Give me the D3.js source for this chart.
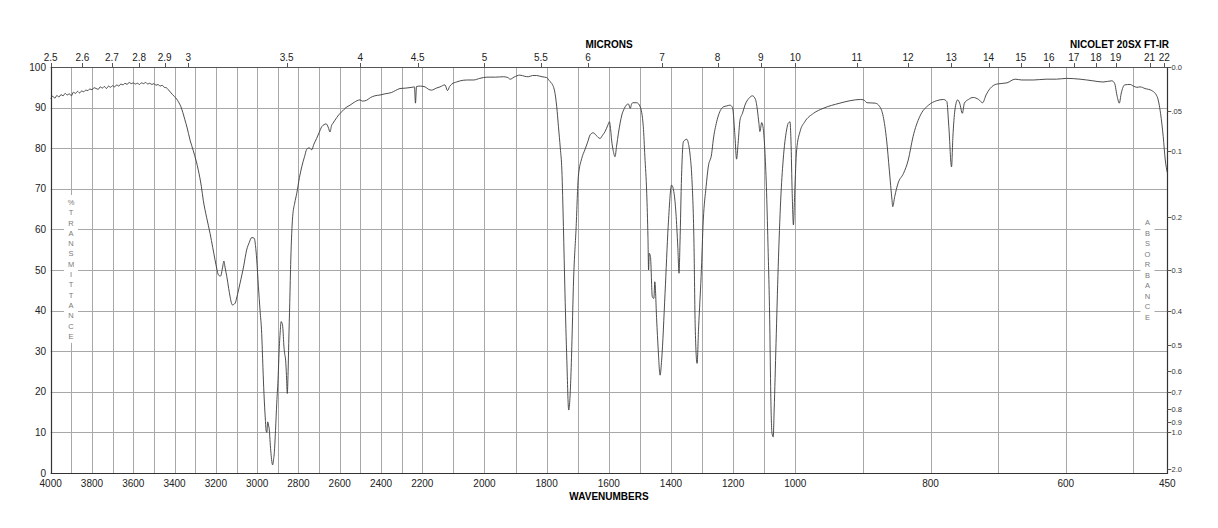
<!DOCTYPE html>
<html>
<head>
<meta charset="utf-8">
<script src="https://cdn.jsdelivr.net/npm/d3@7"></script>
<style>
  body { margin: 0; background: #fff; }
  svg text { font-family: "Liberation Sans", Arial, sans-serif; }
</style>
</head>
<body>
<div id="container"></div>
<script>
/* DATA */
// spectrum (cm-1, %T)
const wavenumbers = [
  4000,3990,3980,3970,3960,3950,3940,3930,3920,3910,3900,3890,3880,3870,3860,3850,3840,3830,3820,3810,
  3800,3790,3780,3770,3760,3750,3740,3730,3720,3710,3700,3690,3680,3670,3660,3650,3640,3630,3620,3610,
  3600,3590,3580,3570,3560,3550,3540,3530,3520,3510,3500,3490,3480,3470,3460,3450,3440,3430,3420,3410,
  3400,3390,3380,3370,3360,3350,3340,3325,3310,3295,3285,3270,3261,3245,3228,3215,3204,3195,3188,3177,
  3168,3161,3155,3147,3138,3131,3120,3107,3095,3083,3065,3051,3038,3026,3014,3008,3002,2994,2986,2978,
  2972,2967,2960,2957,2953,2949,2945,2941,2937,2933,2925,2920,2917,2911,2905,2898,2894,2888,2884,2880,
  2876,2870,2866,2862,2858,2854,2850,2847,2842,2837,2828,2818,2808,2795,2784,2770,2760,2748,2736,2725,
  2712,2700,2687,2676,2666,2656,2647,2640,2632,2623,2605,2590,2570,2550,2530,2502,2490,2470,2450,2430,
  2405,2380,2350,2330,2308,2280,2250,2238,2233,2228,2210,2191,2180,2170,2155,2143,2127,2119,2112,2105,
  2090,2078,2055,2035,2015,1992,1965,1939,1925,1917,1905,1886,1870,1859,1845,1832,1815,1800,1789,1784,
  1773,1766,1762,1756,1751,1746,1741,1735,1729,1722,1718,1714,1705,1698,1687,1677,1668,1660,1650,1640,
  1628,1620,1612,1604,1598,1594,1591,1586,1580,1575,1569,1558,1550,1544,1537,1531,1527,1523,1510,1499,
  1489,1484,1478,1474,1472,1470,1466,1460,1455,1452,1446,1441,1435,1430,1419,1409,1398,1390,1384,1378,
  1374,1371,1366,1360,1349,1344,1338,1333,1326,1322,1316,1311,1303,1296,1287,1280,1269,1264,1253,1237,
  1231,1221,1210,1202,1194,1189,1184,1178,1170,1162,1149,1138,1128,1122,1117,1114,1108,1104,1098,1093,
  1088,1082,1079,1075,1071,1068,1062,1055,1047,1039,1028,1023,1017,1014,1010,1006,1002,998,993,986,
  973,959,934,919,904,899,894,882,875,870,865,861,857,856,853,848,840,833,826,816,
  803,791,781,776,773,769,767,764,760,757,753,750,744,737,729,723,718,712,702,687,
  675,665,648,629,614,599,579,560,545,532,528,524,521,518,513,505,500,495,490,483,
  473,465,460,456,453,450
];
const transmittance = [
  92.2,92.8,92.3,93.0,92.6,93.2,92.9,93.5,93.1,93.4,92.9,93.8,93.5,94.0,93.6,94.1,93.9,94.3,94.2,94.6,
  94.4,94.9,94.7,94.5,95.1,94.8,95.2,94.7,95.3,95.0,95.4,95.1,95.6,95.3,95.8,95.6,96.0,95.7,96.2,95.9,
  96.1,95.8,96.0,95.7,96.1,95.9,96.2,95.8,96.0,95.7,95.9,95.5,95.7,95.3,95.5,95.0,94.9,94.4,93.8,93.2,
  92.7,92.1,91.3,90.3,88.8,87.0,85.2,82.0,79.5,76.8,74.6,70.5,67.2,63.0,59.0,55.5,52.5,50.2,48.8,48.5,
  50.5,52.2,50.5,48.4,45.5,43.4,41.4,41.8,44.0,46.7,51.0,54.9,56.8,58.0,57.8,56.0,52.5,46.0,40.1,34.4,
  26.0,19.6,13.0,10.6,10.0,12.6,11.8,10.6,7.5,4.85,2.0,3.5,4.85,10.5,17.2,24.0,29.5,35.0,37.3,37.0,
  36.0,31.0,29.2,27.8,24.0,19.6,25.0,31.9,42.0,52.5,63.1,66.5,68.9,72.8,75.4,78.0,79.7,80.1,79.6,81.0,
  82.4,83.8,85.3,85.8,86.0,85.2,84.0,85.5,86.2,86.9,88.2,89.0,90.0,90.6,91.3,91.9,91.6,91.8,92.5,92.9,
  93.1,93.4,93.7,94.2,94.7,94.8,95.0,95.1,91.1,95.2,95.3,95.1,94.5,94.3,94.8,95.1,95.6,94.2,95.2,95.8,
  96.3,96.6,96.8,96.8,97.2,97.5,97.5,97.6,97.4,97.0,97.5,98.0,97.7,97.6,97.9,97.9,97.6,97.4,96.4,96.0,
  93.5,89.0,85.3,80.0,74.6,60.7,44.3,27.8,15.5,23.7,34.0,45.9,60.7,73.0,77.5,79.6,81.5,83.3,83.8,83.1,
  82.4,83.2,84.1,85.5,86.5,84.5,82.0,79.5,77.9,80.5,83.7,88.2,89.8,90.6,90.9,89.8,90.8,91.2,91.2,90.2,
  85.3,78.0,68.9,58.0,50.0,54.1,53.3,43.4,43.0,47.1,37.7,30.3,24.1,27.8,44.3,60.7,70.9,68.9,64.0,55.7,
  49.2,56.6,73.0,81.6,82.2,81.2,78.0,73.0,56.6,36.0,27.0,36.0,48.4,62.3,70.5,75.4,78.7,82.0,86.5,89.8,
  90.2,90.4,90.6,90.0,82.8,77.3,81.2,86.9,88.6,90.6,92.3,92.9,92.0,89.4,86.1,84.1,86.3,85.3,79.6,70.5,
  56.6,36.0,19.6,9.8,8.9,15.5,31.9,50.8,67.2,77.1,84.5,86.1,86.5,82.0,68.9,61.1,68.9,79.6,84.1,86.5,
  88.6,89.8,91.1,91.7,92.0,91.9,91.2,91.1,90.2,87.8,82.0,74.6,67.2,65.6,68.1,71.4,73.8,77.1,82.8,87.8,
  90.6,91.7,92.0,91.5,85.3,75.4,82.8,89.4,91.9,91.1,88.6,91.1,92.0,92.5,92.0,91.2,93.1,94.7,95.8,96.1,
  97.0,96.8,96.8,97.0,97.0,97.2,97.0,96.6,96.3,96.6,96.0,92.7,91.1,93.6,95.6,95.7,95.3,95.0,95.1,94.7,
  94.2,92.7,88.6,82.8,77.1,74.0
];

// axis labels
const wnTicks = [4000,3800,3600,3400,3200,3000,2800,2600,2400,2200,2000,1800,1600,1400,1200,1000,800,600,450];
const micronTicks = [2.5,2.6,2.7,2.8,2.9,3,3.5,4,4.5,5,5.5,6,7,8,9,10,11,12,13,14,15,16,17,18,19,21,22];
const pctTicks = [0,10,20,30,40,50,60,70,80,90,100];
const absTicks = [0.0,0.05,0.1,0.2,0.3,0.4,0.5,0.6,0.7,0.8,0.9,1.0,2.0];
const absLabels = ["0.0",".05","0.1","0.2","0.3","0.4","0.5","0.6","0.7","0.8","0.9","1.0","2.0"];

const spectrum = wavenumbers.map((w, i) => ({ wn: w, t: transmittance[i] }));

/* LAYOUT */
const width = 1218, height = 528;
const plot = { left: 50.7, right: 1167.3, top: 67, bottom: 473 };

const svg = d3.select("#container").append("svg")
  .attr("width", width)
  .attr("height", height);

// chart paper is compressed in three pieces
const x = d3.scaleLinear()
  .domain([4000, 2200, 1000, 450])
  .range([plot.left, 422.3, 795.3, plot.right]);

const y = d3.scaleLinear()
  .domain([0, 100])
  .range([plot.bottom, plot.top]);

const gridColor = "#a8a8a8";

// vertical grid
const vGrid = d3.range(3900, 999, -100).concat([900, 800, 700, 600, 500]);
svg.append("g")
  .selectAll("line")
  .data(vGrid)
  .join("line")
  .attr("x1", d => Math.round(x(d)) + 0.5)
  .attr("x2", d => Math.round(x(d)) + 0.5)
  .attr("y1", plot.top)
  .attr("y2", plot.bottom)
  .attr("stroke", gridColor)
  .attr("stroke-width", 1);

// horizontal grid
svg.append("g")
  .selectAll("line")
  .data(pctTicks.filter(d => d > 0 && d < 100))
  .join("line")
  .attr("x1", plot.left)
  .attr("x2", plot.right)
  .attr("y1", d => Math.round(y(d)) + 0.5)
  .attr("y2", d => Math.round(y(d)) + 0.5)
  .attr("stroke", gridColor)
  .attr("stroke-width", 1);

// stacked axis titles (white patch under them)
function stackedLabel(str, cx, y0, step) {
  const chars = str.split("");
  svg.append("rect")
    .attr("x", cx - 7)
    .attr("y", y0 - 8)
    .attr("width", 14)
    .attr("height", step * (chars.length - 1) + 14)
    .attr("fill", "#fff");
  svg.append("g")
    .selectAll("text")
    .data(chars)
    .join("text")
    .attr("x", cx)
    .attr("y", (d, i) => y0 + i * step)
    .attr("text-anchor", "middle")
    .attr("dominant-baseline", "middle")
    .attr("font-size", 7.5)
    .attr("fill", "#7a7a7a")
    .text(d => d);
}
stackedLabel("%TRANSMITTANCE", 71, 203, 10.3);
stackedLabel("ABSORBANCE", 1147.5, 223.5, 10.45);

// frame
svg.append("line")
  .attr("x1", plot.left).attr("x2", plot.right)
  .attr("y1", plot.top + 0.5).attr("y2", plot.top + 0.5)
  .attr("stroke", "#555");
svg.append("line")
  .attr("x1", plot.left).attr("x2", plot.right)
  .attr("y1", plot.bottom + 0.5).attr("y2", plot.bottom + 0.5)
  .attr("stroke", "#333").attr("stroke-width", 1.2);
svg.append("line")
  .attr("x1", Math.round(plot.left) + 0.5).attr("x2", Math.round(plot.left) + 0.5)
  .attr("y1", plot.top).attr("y2", plot.bottom + 1)
  .attr("stroke", "#333").attr("stroke-width", 1.2);
svg.append("line")
  .attr("x1", Math.round(plot.right) + 0.5).attr("x2", Math.round(plot.right) + 0.5)
  .attr("y1", plot.top).attr("y2", plot.bottom + 1)
  .attr("stroke", "#333").attr("stroke-width", 1.2);

// SPECTRUM
const line = d3.line()
  .x(d => x(d.wn))
  .y(d => y(d.t))
  .curve(d3.curveMonotoneX);

svg.append("path")
  .datum(spectrum)
  .attr("d", line)
  .attr("fill", "none")
  .attr("stroke", "#3a3a3a")
  .attr("stroke-width", 0.9);

// bottom wavenumber labels
svg.append("g")
  .selectAll("text")
  .data(wnTicks)
  .join("text")
  .attr("x", d => x(d))
  .attr("y", 487)
  .attr("text-anchor", "middle")
  .attr("font-size", 10)
  .attr("fill", "#222")
  .text(d => d);

// top micron labels + ticks
const microns = svg.append("g");
microns.selectAll("line")
  .data(micronTicks)
  .join("line")
  .attr("x1", d => Math.round(x(10000 / d)) + 0.5)
  .attr("x2", d => Math.round(x(10000 / d)) + 0.5)
  .attr("y1", plot.top - 4)
  .attr("y2", plot.top)
  .attr("stroke", "#555");
microns.selectAll("text")
  .data(micronTicks)
  .join("text")
  .attr("x", d => x(10000 / d))
  .attr("y", 61)
  .attr("text-anchor", "middle")
  .attr("font-size", 10)
  .attr("fill", "#222")
  .text(d => d);

// left %T labels
svg.append("g")
  .selectAll("text")
  .data(pctTicks)
  .join("text")
  .attr("x", 46)
  .attr("y", d => y(d) + 3.5)
  .attr("text-anchor", "end")
  .attr("font-size", 10)
  .attr("fill", "#222")
  .text(d => d);

// right absorbance scale
const absY = a => y(100 * Math.pow(10, -a));
const absG = svg.append("g");
absG.selectAll("line")
  .data(absTicks)
  .join("line")
  .attr("x1", plot.right)
  .attr("x2", plot.right + 4)
  .attr("y1", d => Math.round(absY(d)) + 0.5)
  .attr("y2", d => Math.round(absY(d)) + 0.5)
  .attr("stroke", "#555");
absG.selectAll("text")
  .data(absTicks)
  .join("text")
  .attr("x", 1171.5)
  .attr("y", d => absY(d) + 3)
  .attr("font-size", 7.5)
  .attr("fill", "#333")
  .text((d, i) => absLabels[i]);

// titles
svg.append("text")
  .attr("x", 609).attr("y", 48)
  .attr("text-anchor", "middle")
  .attr("font-size", 10).attr("font-weight", "bold")
  .text("MICRONS");
svg.append("text")
  .attr("x", 1169).attr("y", 48)
  .attr("text-anchor", "end")
  .attr("font-size", 10).attr("font-weight", "bold")
  .text("NICOLET 20SX FT-IR");
svg.append("text")
  .attr("x", 609).attr("y", 500)
  .attr("text-anchor", "middle")
  .attr("font-size", 10).attr("font-weight", "bold")
  .text("WAVENUMBERS");
</script>
</body>
</html>
